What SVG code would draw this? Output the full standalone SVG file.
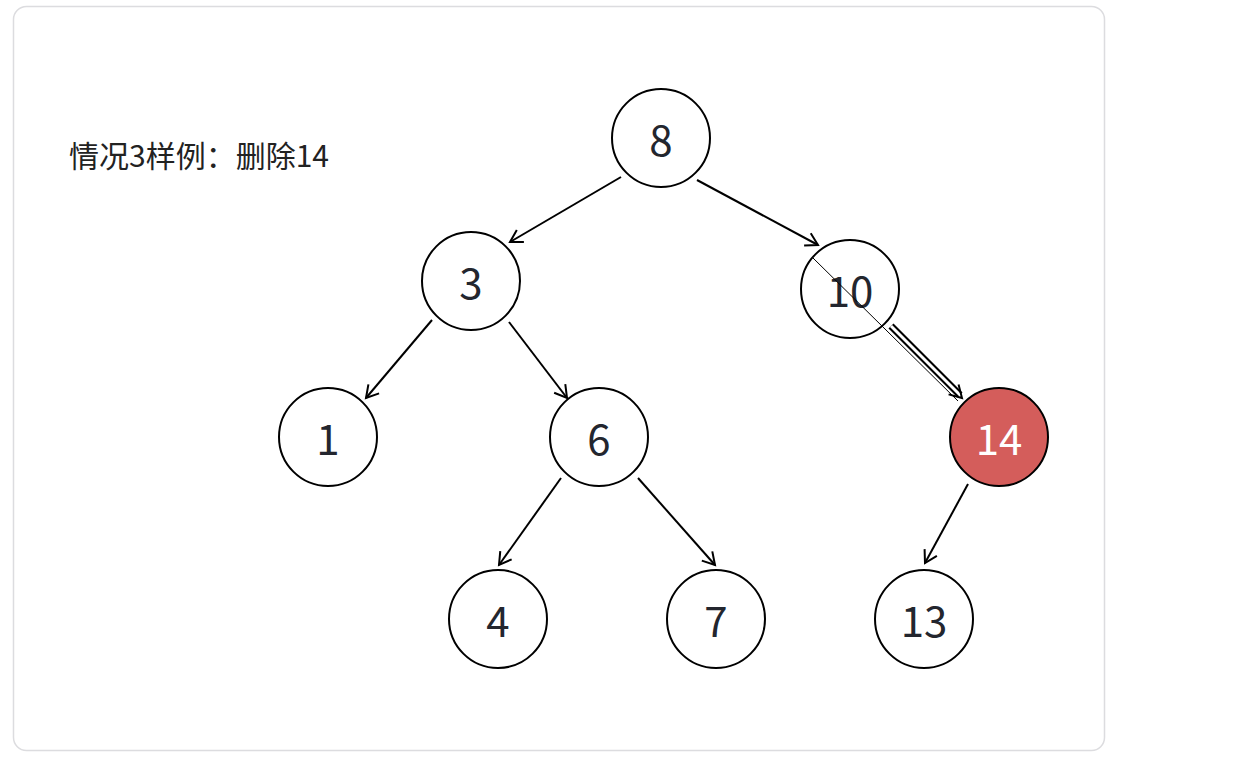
<svg xmlns="http://www.w3.org/2000/svg" width="1239" height="768" viewBox="0 0 1239 768">
<style>
.n circle{fill:#fff;stroke:#000;stroke-width:2}
.n text{font-family:"Noto Sans CJK SC","Noto Sans",sans-serif;font-size:42px;fill:#23262e;text-anchor:middle;dominant-baseline:central}
.e{stroke:#000;stroke-width:2;fill:none}
</style>
<defs>
<marker id="a" markerUnits="userSpaceOnUse" markerWidth="20" markerHeight="20" refX="13" refY="8" orient="auto" viewBox="0 0 20 16">
<path d="M1,1 L13,8 L1,15" fill="none" stroke="#000" stroke-width="2"/>
</marker>
</defs>
<rect x="13.5" y="6.5" width="1091" height="744" rx="13" fill="#fff" stroke="#dcdcdf" stroke-width="1.5"/>
<text x="69" y="167" font-family="'Noto Sans CJK SC',sans-serif" font-size="30" fill="#222">情况3样例：删除14</text>
<g id="connectors">
<line class="e" x1="621" y1="177" x2="510" y2="242" marker-end="url(#a)"/>
<line class="e" x1="697" y1="180" x2="818" y2="245" marker-end="url(#a)"/>
<line class="e" x1="432" y1="320" x2="366" y2="398" marker-end="url(#a)"/>
<line class="e" x1="509" y1="322" x2="567" y2="398" marker-end="url(#a)"/>
<line class="e" x1="561" y1="478" x2="499" y2="565" marker-end="url(#a)"/>
<line class="e" x1="638" y1="478" x2="715" y2="565" marker-end="url(#a)"/>
<line class="e" x1="968" y1="484" x2="925" y2="563" marker-end="url(#a)"/>
</g>
<g id="n8" class="n"><circle cx="661" cy="138" r="49"/><text x="661" y="137">8</text></g>
<g id="n3" class="n"><circle cx="471" cy="281" r="49"/><text x="471" y="280">3</text></g>
<g id="n10" class="n"><circle cx="850" cy="289" r="49"/><text x="850" y="288">10</text></g>
<g id="n1" class="n"><circle cx="328" cy="437" r="49"/><text x="328" y="436">1</text></g>
<g id="n6" class="n"><circle cx="599" cy="437" r="49"/><text x="599" y="436">6</text></g>
<g id="n14" class="n"><circle cx="999" cy="437" r="49" style="fill:#d45d5b"/><text x="999" y="436" style="fill:#fff">14</text></g>
<g id="n4" class="n"><circle cx="498" cy="619" r="49"/><text x="498" y="618">4</text></g>
<g id="n7" class="n"><circle cx="716" cy="619" r="49"/><text x="716" y="618">7</text></g>
<g id="n13" class="n"><circle cx="924" cy="619" r="49"/><text x="924" y="618">13</text></g>
<g id="connectors-top">
<line x1="891" y1="326" x2="960" y2="395" stroke="#000" stroke-width="7"/>
<line x1="891" y1="326" x2="962" y2="397" stroke="#fff" stroke-width="3"/>
<line x1="891" y1="326" x2="962" y2="398" stroke="none" fill="none" marker-end="url(#a)"/>
<line x1="813" y1="258" x2="958" y2="401" stroke="#000" stroke-width="1"/>
</g>
</svg>
